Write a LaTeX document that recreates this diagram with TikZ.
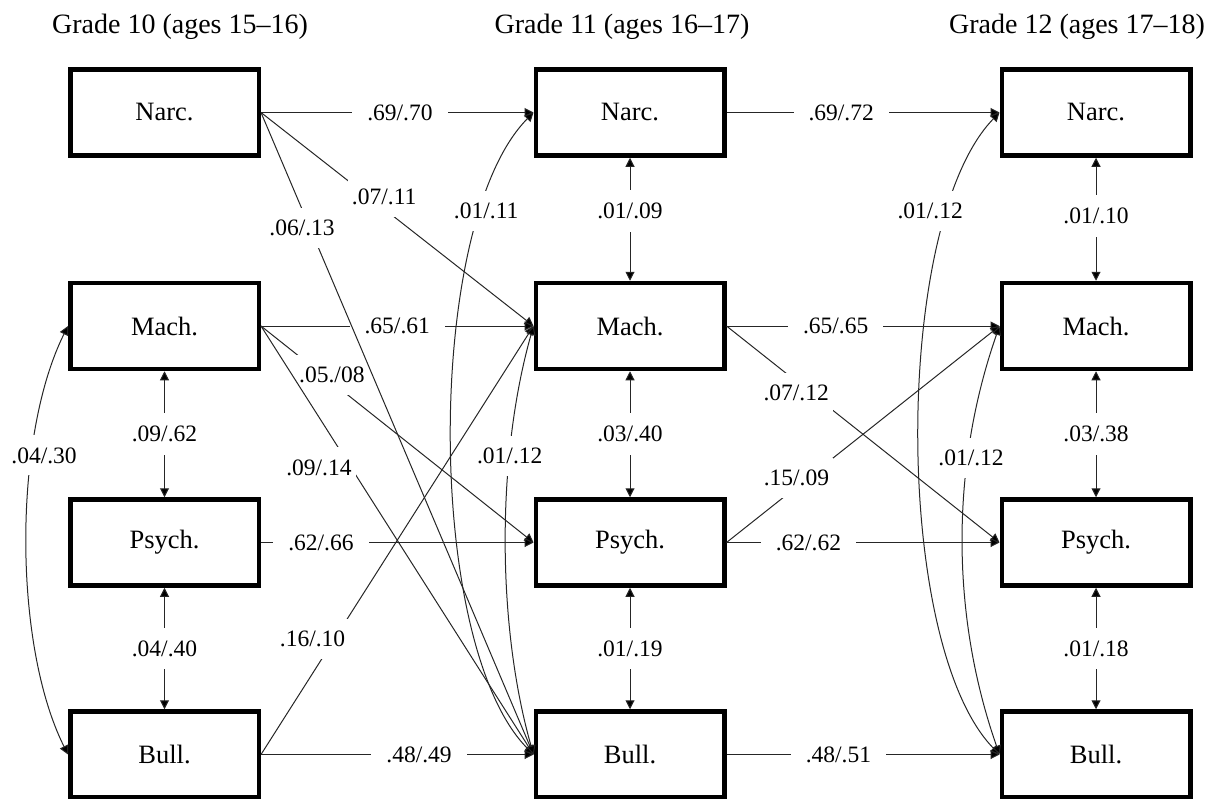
\documentclass[tikz,border=0pt]{standalone}
\usepackage{fontspec}
\setmainfont{Liberation Serif}
\usetikzlibrary{arrows.meta}
\begin{document}
\begin{tikzpicture}[x=1pt,y=-1pt,
  box/.style={draw=black, line width=4.5pt, minimum width=188.5pt, minimum height=86pt, inner sep=0pt, fill=white, font=\fontsize{26.5}{30}\selectfont},
  lbl/.style={fill=white, inner xsep=15pt, inner ysep=13pt, font=\fontsize{23.5}{27}\selectfont},
  dlbl/.style={fill=white, inner xsep=4pt, inner ysep=12pt, font=\fontsize{23.5}{27}\selectfont},
  ttl/.style={anchor=base, font=\fontsize{28}{32}\selectfont},
  conn/.style={draw=black!85, line width=1pt, -{Triangle[length=9pt,width=9pt,fill=black]}},
  bi/.style={draw=black!85, line width=1pt, {Triangle[length=9pt,width=9pt,fill=black]}-{Triangle[length=9pt,width=9pt,fill=black]}}
]
\useasboundingbox (0,0) rectangle (1217,798);

% titles
\node[ttl] (T1) at (180,33) {Grade 10 (ages 15–16)};
\node[ttl] (T2) at (622,33) {Grade 11 (ages 16–17)};
\node[ttl] (T3) at (1077,33) {Grade 12 (ages 17–18)};

% boxes
\node[box] (N1) at (164.5,112.5) {Narc.};
\node[box] (M1) at (164.5,326) {Mach.};
\node[box] (P1) at (164.5,542.5) {Psych.};
\node[box] (B1) at (164.5,754.5) {Bull.};
\node[box] (N2) at (630,112.5) {Narc.};
\node[box] (M2) at (630,326) {Mach.};
\node[box] (P2) at (630,542.5) {Psych.};
\node[box] (B2) at (630,754.5) {Bull.};
\node[box] (N3) at (1096,112.5) {Narc.};
\node[box] (M3) at (1096,326) {Mach.};
\node[box] (P3) at (1096,542.5) {Psych.};
\node[box] (B3) at (1096,754.5) {Bull.};

% grade 10 -> grade 11
\draw[conn] (N1.east) -- node[lbl,pos=0.51]{.69/.70} (N2.west);
\draw[conn] (N1.east) -- node[dlbl,pos=0.397,xshift=15pt]{.07/.11} (M2.west);
\draw[conn] (M1.east) -- node[lbl,pos=0.5]{.65/.61} (M2.west);
\draw[conn] (M1.east) -- node[dlbl,pos=0.227,xshift=9pt]{.05./08} (P2.west);
\draw[conn] (M1.east) -- node[dlbl,pos=0.33,xshift=-32pt]{.09/.14} (B2.west);
\draw[conn] (P1.east) -- node[lbl,pos=0.22]{.62/.66} (P2.west);
\draw[conn] (B1.east) -- node[dlbl,pos=0.27,xshift=-22pt]{.16/.10} (M2.west);
\draw[conn] (B1.east) -- node[lbl,pos=0.58]{.48/.49} (B2.west);
\draw[conn] (N1.east) -- node[dlbl,pos=0.18,xshift=-8pt]{.06/.13} (B2.west);

% grade 11 -> grade 12
\draw[conn] (N2.east) -- node[lbl,pos=0.42]{.69/.72} (N3.west);
\draw[conn] (M2.east) -- node[lbl,pos=0.4]{.65/.65} (M3.west);
\draw[conn] (M2.east) -- node[dlbl,pos=0.31,xshift=-15pt]{.07/.12} (P3.west);
\draw[conn] (P2.east) -- node[dlbl,pos=0.30,xshift=-12pt]{.15/.09} (M3.west);
\draw[conn] (P2.east) -- node[lbl,pos=0.30]{.62/.62} (P3.west);
\draw[conn] (B2.east) -- node[lbl,pos=0.41]{.48/.51} (B3.west);

% within-wave correlations
\draw[bi] (M1.south) -- node[lbl]{.09/.62} (P1.north);
\draw[bi] (P1.south) -- node[lbl]{.04/.40} (B1.north);
\draw[bi] (N2.south) -- node[lbl,pos=0.43]{.01/.09} (M2.north);
\draw[bi] (M2.south) -- node[lbl]{.03/.40} (P2.north);
\draw[bi] (P2.south) -- node[lbl]{.01/.19} (B2.north);
\draw[bi] (N3.south) -- node[lbl,pos=0.47]{.01/.10} (M3.north);
\draw[bi] (M3.south) -- node[lbl]{.03/.38} (P3.north);
\draw[bi] (P3.south) -- node[lbl]{.01/.18} (B3.north);

% curved correlations
\draw[bi] (M1.west) .. controls +(-55,110) and +(-55,-110) .. node[dlbl,pos=0.32,xshift=12pt]{.04/.30} (B1.west);
\draw[bi] (N2.west) .. controls +(-109,110) and +(-109,-110) .. node[dlbl,pos=0.2,xshift=5pt]{.01/.11} (B2.west);
\draw[bi] (M2.west) .. controls +(-37,130) and +(-37,-130) .. node[dlbl,pos=0.31]{.01/.12} (B2.west);
\draw[bi] (N3.west) .. controls +(-107,110) and +(-107,-110) .. node[dlbl,pos=0.2,xshift=-18pt]{.01/.12} (B3.west);
\draw[bi] (M3.west) .. controls +(-49,140) and +(-49,-140) .. node[dlbl,pos=0.31,xshift=3pt]{.01/.12} (B3.west);
\end{tikzpicture}
\end{document}
